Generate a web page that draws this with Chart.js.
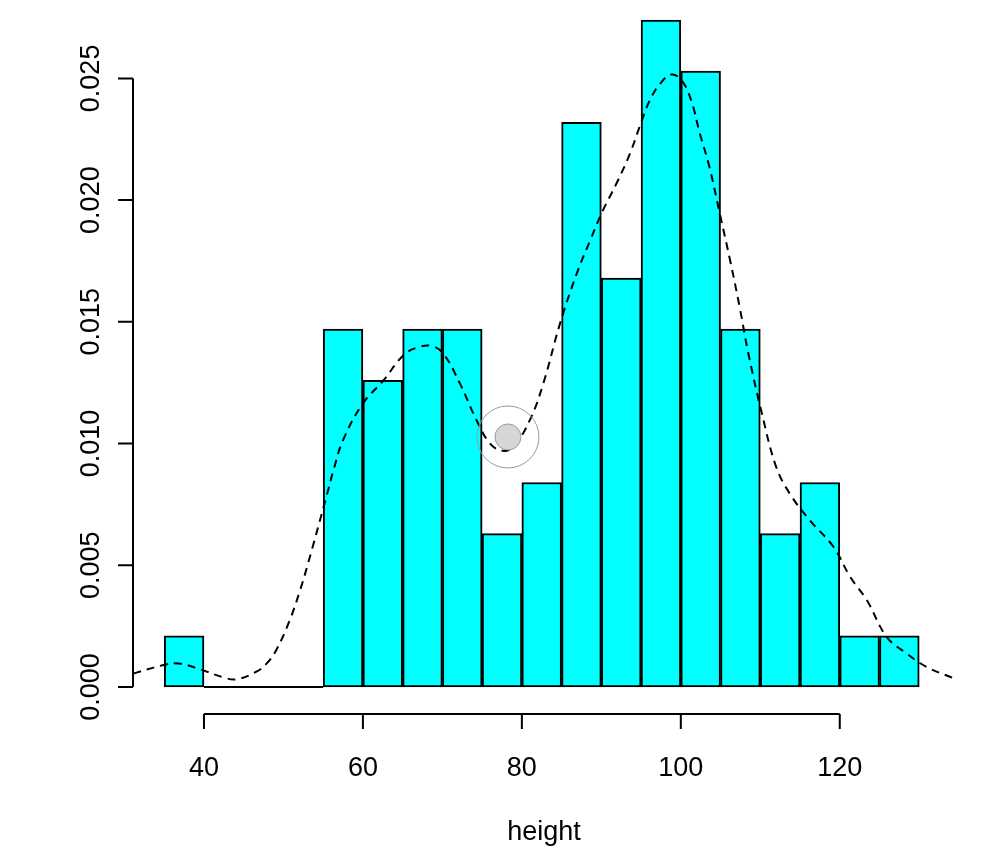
<!DOCTYPE html>
<html>
<head>
<meta charset="utf-8">
<script src="https://cdn.jsdelivr.net/npm/chart.js@4/dist/chart.umd.min.js"></script>
<style>
  body { margin: 0; background: #fff; }
  canvas { display: block; }
</style>
</head>
<body>
<canvas id="chart" width="995" height="866"></canvas>
<script>
// histogram bins (mid points) and densities
const binMids = [37.5, 42.5, 47.5, 52.5, 57.5, 62.5, 67.5, 72.5, 77.5, 82.5, 87.5, 92.5, 97.5, 102.5, 107.5, 112.5, 117.5, 122.5, 127.5];
const binDensity = [0.0021, 0, 0, 0, 0.0147, 0.0126, 0.0147, 0.0147, 0.0063, 0.0084, 0.0232, 0.0168, 0.0274, 0.0253, 0.0147, 0.0063, 0.0084, 0.0021, 0.0021];

// empty bins drawn as a flat line at 0
const emptyX = [40, 55];
const emptyY = [0, 0];

// kernel density curve
const densX = [31.1, 31.5, 34.9, 36.8, 39.5, 42.4, 44.1, 46.6, 47.9, 49.1, 50.8, 52.1, 53.1, 55.4, 56.3, 57.5, 60.0, 62.6, 65.1, 66.8, 68.6, 70.1, 72.2, 74.3, 76.0, 77.6, 78.9, 81.0, 82.7, 84.8, 86.9, 88.6, 90.2, 91.9, 93.6, 94.8, 96.1, 97.4, 98.8, 100.1, 101.3, 102.4, 103.6, 104.9, 106.2, 107.4, 108.5, 110.2, 112.0, 113.7, 116.2, 119.2, 121.3, 123.4, 125.9, 128.4, 130.9, 134.3];
const densY = [0.00055, 0.00059, 0.00090, 0.00097, 0.00073, 0.00040, 0.00032, 0.00063, 0.00097, 0.00152, 0.00275, 0.00398, 0.00508, 0.00781, 0.00891, 0.01014, 0.01165, 0.01260, 0.01363, 0.01394, 0.01401, 0.01370, 0.01247, 0.01096, 0.01000, 0.00970, 0.00986, 0.01096, 0.01247, 0.01493, 0.01698, 0.01835, 0.01958, 0.02068, 0.02191, 0.02300, 0.02410, 0.02478, 0.02516, 0.02492, 0.02410, 0.02273, 0.02136, 0.01945, 0.01753, 0.01561, 0.01370, 0.01124, 0.00904, 0.00795, 0.00686, 0.00576, 0.00453, 0.00357, 0.00206, 0.00138, 0.00083, 0.00036];

// cursor highlight seen in the picture
const markX = [78.25];
const markY = [0.01027];

// axis ticks
const xTicks = [40, 60, 80, 100, 120];
const yTicks = [0, 0.005, 0.010, 0.015, 0.020, 0.025];
const yTickLabels = ["0.000", "0.005", "0.010", "0.015", "0.020", "0.025"];
const xTitle = "height";

const FONT = '27px "Liberation Sans", Arial, sans-serif';

const toPoints = (xs, ys) => xs.map((x, i) => ({ x: x, y: ys[i] }));

// R style detached axes
const rAxes = {
    id: "rAxes",
    afterDraw(chart) {
        const ctx = chart.ctx;
        const xs = chart.scales.x;
        const ys = chart.scales.y;
        const area = chart.chartArea;
        ctx.save();
        ctx.strokeStyle = "#000";
        ctx.fillStyle = "#000";
        ctx.lineWidth = 2;
        ctx.font = FONT;

        // x axis
        const xAxisY = 714;
        ctx.beginPath();
        ctx.moveTo(xs.getPixelForValue(xTicks[0]), xAxisY);
        ctx.lineTo(xs.getPixelForValue(xTicks[xTicks.length - 1]), xAxisY);
        xTicks.forEach(t => {
            const px = xs.getPixelForValue(t);
            ctx.moveTo(px, xAxisY);
            ctx.lineTo(px, xAxisY + 15);
        });
        ctx.stroke();
        ctx.textAlign = "center";
        ctx.textBaseline = "middle";
        xTicks.forEach(t => {
            ctx.fillText(String(t), xs.getPixelForValue(t), 769);
        });
        ctx.fillText(xTitle, (area.left + area.right) / 2, 833);

        // y axis
        const yAxisX = 133;
        ctx.beginPath();
        ctx.moveTo(yAxisX, ys.getPixelForValue(yTicks[0]));
        ctx.lineTo(yAxisX, ys.getPixelForValue(yTicks[yTicks.length - 1]));
        yTicks.forEach(t => {
            const py = ys.getPixelForValue(t);
            ctx.moveTo(yAxisX, py);
            ctx.lineTo(yAxisX - 15, py);
        });
        ctx.stroke();
        yTicks.forEach((t, i) => {
            ctx.save();
            ctx.translate(92, ys.getPixelForValue(t));
            ctx.rotate(-Math.PI / 2);
            ctx.fillText(yTickLabels[i], 0, 0);
            ctx.restore();
        });
        ctx.restore();
    }
};

const ctx = document.getElementById("chart").getContext("2d");
const chart = new Chart(ctx, {
    type: "bar",
    data: {
        datasets: [
            {
                type: "scatter",
                data: toPoints(markX, markY),
                pointRadius: 31,
                pointBackgroundColor: "rgba(0,0,0,0)",
                pointBorderColor: "#9a9a9a",
                pointBorderWidth: 1,
                order: 0
            },
            {
                type: "scatter",
                data: toPoints(markX, markY),
                pointRadius: 13,
                pointBackgroundColor: "#d6d6d6",
                pointBorderColor: "#9a9a9a",
                pointBorderWidth: 1,
                order: 1
            },
            {
                type: "line",
                data: toPoints(densX, densY),
                borderColor: "#000",
                borderWidth: 2,
                borderDash: [8, 6],
                pointRadius: 0,
                tension: 0.4,
                fill: false,
                order: 2
            },
            {
                type: "line",
                data: toPoints(emptyX, emptyY),
                borderColor: "#000",
                borderWidth: 2,
                pointRadius: 0,
                order: 3
            },
            {
                type: "bar",
                data: toPoints(binMids, binDensity),
                backgroundColor: "#00ffff",
                borderColor: "#000",
                borderWidth: 2,
                borderSkipped: false,
                barPercentage: 1,
                categoryPercentage: 1,
                order: 4
            }
        ]
    },
    plugins: [rAxes],
    options: {
        responsive: false,
        animation: false,
        layout: { autoPadding: false, padding: { left: 133, right: 40, top: 0, bottom: 152 } },
        plugins: { legend: { display: false }, tooltip: { enabled: false } },
        scales: {
            x: { type: "linear", offset: false, min: 31.07, max: 134.5, display: false },
            y: { type: "linear", min: -0.001109, max: 0.02822, display: false }
        }
    }
});
</script>
</body>
</html>
